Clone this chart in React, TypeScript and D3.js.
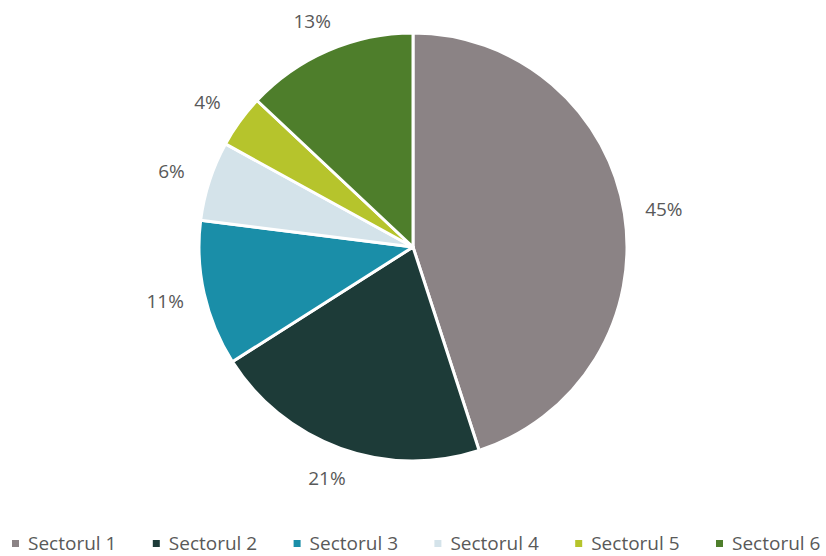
import React from "react";
import * as d3 from "d3";

const categories = ["Sectorul 1", "Sectorul 2", "Sectorul 3", "Sectorul 4", "Sectorul 5", "Sectorul 6"];
const values = [45, 21, 11, 6, 4, 13];
const colors = ["#8b8385", "#1d3b38", "#1a8ea8", "#d4e3ea", "#b6c42c", "#4e7e2b"];

const W = 826;
const H = 556;
const cx = 413;
const cy = 247;
const R = 214;

export default function App() {
  const pie = d3.pie<number>().sort(null).value((d) => d)(values);
  const arc = d3.arc<d3.PieArcDatum<number>>().innerRadius(0).outerRadius(R);
  const total = d3.sum(values);
  const legendX = d3.scaleLinear().domain([0, categories.length - 1]).range([12, 716]);

  return (
    <svg width={W} height={H} style={{ position: "absolute", left: 0, top: 0, background: "#fff" }}>
      <g transform={`translate(${cx},${cy})`}>
        {pie.map((p, i) => (
          <path key={i} d={arc(p) || ""} fill={colors[i]} stroke="#fff" strokeWidth={3} strokeLinejoin="round" />
        ))}
        {pie.map((p, i) => {
          const a = (p.startAngle + p.endAngle) / 2;
          const s = Math.sin(a);
          const c = Math.cos(a);
          const rr = R + 22;
          const x = rr * s + s * 18;
          const y = -rr * c - c * 10;
          return (
            <text
              key={"l" + i}
              x={x}
              y={y}
              textAnchor="middle"
              dominantBaseline="central"
              fontFamily="'Open Sans', sans-serif"
              fontSize={19}
              fill="#595959"
            >
              {Math.round((values[i] / total) * 100) + "%"}
            </text>
          );
        })}
      </g>
      <g>
        {categories.map((c, i) => (
          <g key={c} transform={`translate(${legendX(i)},543)`}>
            <rect x={0} y={-3} width={7} height={7} fill={colors[i]} />
            <text x={16} y={0} dominantBaseline="central" fontFamily="'Open Sans', sans-serif" fontSize={19} fill="#595959">
              {c}
            </text>
          </g>
        ))}
      </g>
    </svg>
  );
}
